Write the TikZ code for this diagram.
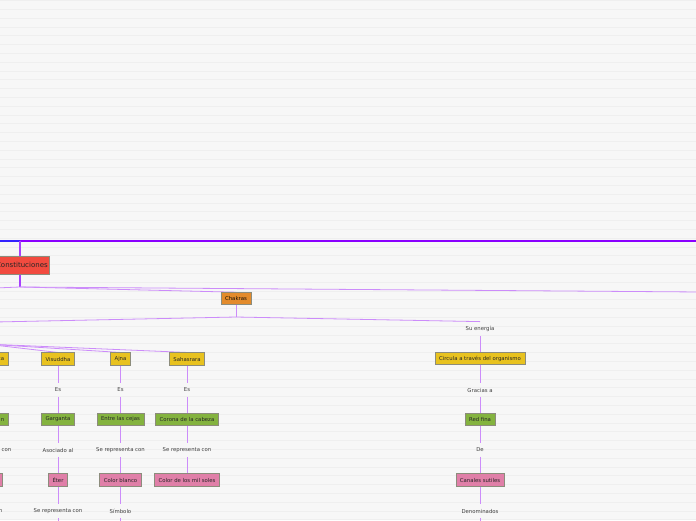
\documentclass[tikz,border=0pt]{standalone}
\usepackage{fontspec}
\setmainfont{DejaVu Sans}
\definecolor{fondo}{HTML}{F7F7F7}
\definecolor{raya}{HTML}{EFEFEF}
\definecolor{violeta}{HTML}{8A00FF}
\definecolor{azul}{HTML}{3322FF}
\definecolor{lila}{RGB}{204,140,250}
\definecolor{borde}{HTML}{8C8C7C}
\definecolor{rojo}{HTML}{F24B3F}
\definecolor{naranja}{HTML}{E38B2C}
\definecolor{amarillo}{HTML}{E8C21F}
\definecolor{verdecaja}{HTML}{84B33F}
\definecolor{rosacaja}{HTML}{E07FA8}
\pgfdeclarelayer{papel}
\pgfdeclarelayer{lineas}
\pgfsetlayers{papel,lineas,main}
\begin{document}
\begin{tikzpicture}[x=1pt, y=-1pt,
    caja/.style={rectangle, draw=borde, line width=0.6pt, inner xsep=4pt, inner ysep=0pt,
      minimum height=12.5pt, font=\fontsize{5.35}{6}\selectfont, text=black!85},
    amarilla/.style={caja, fill=amarillo},
    verde/.style={caja, fill=verdecaja},
    rosa/.style={caja, fill=rosacaja},
    etiqueta/.style={inner xsep=1pt, inner ysep=4.5pt, font=\fontsize{5.35}{6}\selectfont, text=black!75},
    rama/.style={draw=lila, line width=0.8pt}]
  \useasboundingbox (0,0) rectangle (696,520);
  \begin{pgfonlayer}{papel}
    \fill[fondo] (0,0) rectangle (696,520);
    \foreach \r in {0.5,9.3,...,520}
      {
        \draw[raya, line width=0.5pt] (0,\r) -- (696,\r);
      }
  \end{pgfonlayer}
  \clip (0,0) rectangle (696,520);

  \node[caja, fill=rojo, minimum height=18pt, inner xsep=1.5pt, anchor=east,
    font=\fontsize{7}{8}\selectfont] (const) at (49.5,265) {Constituciones};
  \node[caja, fill=naranja, minimum height=12pt, text=black!90!brown] (chakras) at (236,298.5) {Chakras};

  \coordinate (padre) at (20,241);
  \coordinate (union) at (20,287);
  \coordinate (sub) at (236,317);
  \coordinate (abanico) at (-15,344);
  \coordinate (izqA) at (-5,241);
  \coordinate (derA) at (701,241);
  \coordinate (izqB) at (-5,288);
  \coordinate (derB) at (701,292);
  \coordinate (izqC) at (-5,322);

  % columna izquierda cortada
  \node[amarilla, anchor=east] (anahata) at (8.5,359) {ca};
  \node[verde, anchor=east] (pecho) at (8.5,419.5) {n};
  \node[etiqueta, anchor=east] (conA) at (12.5,450) {con};
  \node[rosa, anchor=east, minimum width=10pt] (aire) at (3,480) {};
  \node[etiqueta, anchor=east] (finA) at (3.5,511) {n};

  % Visuddha
  \node[amarilla] (visuddha) at (58,359) {Visuddha};
  \node[etiqueta] (esV) at (58,390) {Es};
  \node[verde] (garganta) at (58,419.5) {Garganta};
  \node[etiqueta] (asociado) at (58,450) {Asociado al};
  \node[rosa] (eter) at (58,480) {Éter};
  \node[etiqueta] (repV) at (58,511) {Se representa con};
  \coordinate (bajoV) at (58,525);

  % Ajna
  \node[amarilla] (ajna) at (120.5,359) {Ajna};
  \node[etiqueta] (esA) at (120.5,390) {Es};
  \node[verde] (cejas) at (120.5,419.5) {Entre las cejas};
  \node[etiqueta] (repA) at (120.5,450) {Se representa con};
  \node[rosa] (blanco) at (120.5,480) {Color blanco};
  \node[etiqueta] (simbolo) at (120.5,511) {Símbolo};
  \coordinate (bajoA) at (120.5,525);

  % Sahasrara
  \node[amarilla] (sahasrara) at (187,359) {Sahasrara};
  \node[etiqueta] (esS) at (187,390) {Es};
  \node[verde] (corona) at (187,419.5) {Corona de la cabeza};
  \node[etiqueta] (repS) at (187,450) {Se representa con};
  \node[rosa] (soles) at (187,480) {Color de los mil soles};

  % energia
  \node[etiqueta] (energia) at (480,329) {Su energía};
  \node[amarilla] (circula) at (480,358.5) {Circula a través del organismo};
  \node[etiqueta] (gracias) at (480,390) {Gracias a};
  \node[verde] (red) at (480,419.5) {Red fina};
  \node[etiqueta] (de) at (480,450) {De};
  \node[rosa] (canales) at (480,480) {Canales sutiles};
  \node[etiqueta] (denominados) at (480,511) {Denominados};
  \coordinate (bajoE) at (480,525);

  \begin{pgfonlayer}{lineas}
    \draw[azul, line width=2pt] (izqA) -- (padre);
    \draw[violeta, line width=2pt] (padre) -- (derA);
    \draw[violeta!75, line width=1.2pt] (padre) -- (union);
    \draw[rama] (union) -- (izqB);
    \draw[rama] (union) -- (derB);
    \draw[rama] (union) -- (chakras.north);
    \draw[rama] (chakras) -- (sub);
    \draw[rama] (sub) -- (izqC);
    \draw[rama] (sub) -- (energia.north);
    \foreach \n in {visuddha,ajna,sahasrara}
      {
        \draw[rama] (abanico) -- (\n.north);
      }
    \draw[rama] (visuddha) -- (esV) -- (garganta) -- (asociado) -- (eter) -- (repV) -- (bajoV);
    \draw[rama] (ajna) -- (esA) -- (cejas) -- (repA) -- (blanco) -- (simbolo) -- (bajoA);
    \draw[rama] (sahasrara) -- (esS) -- (corona) -- (repS) -- (soles);
    \draw[rama] (energia) -- (circula) -- (gracias) -- (red) -- (de) -- (canales) -- (denominados) -- (bajoE);
  \end{pgfonlayer}
\end{tikzpicture}
\end{document}
